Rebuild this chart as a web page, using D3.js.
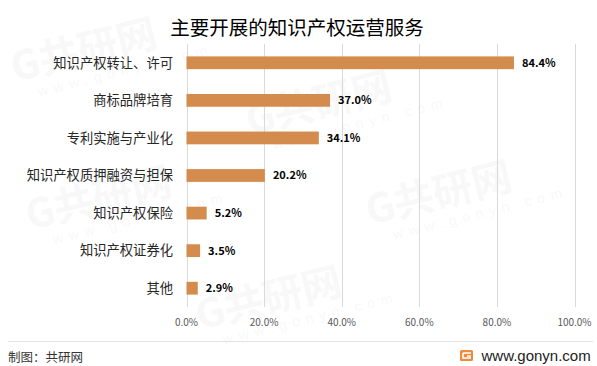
<!DOCTYPE html>
<html>
<head>
<meta charset="utf-8">
<script src="https://cdn.jsdelivr.net/npm/d3@7"></script>
<style>
    html, body { margin: 0; padding: 0; background: #fff; }
    svg { display: block; font-family: "Microsoft YaHei", "Noto Sans CJK SC", sans-serif; }
</style>
</head>
<body>
<div id="chart"></div>
<script>
'use strict';

// ------------ DATA ---------------- //

const CATEGORIES = ['知识产权转让、许可', '商标品牌培育', '专利实施与产业化', '知识产权质押融资与担保', '知识产权保险', '知识产权证券化', '其他'];
const VALUES     = [84.4, 37.0, 34.1, 20.2, 5.2, 3.5, 2.9];
const TICKS      = [0, 20, 40, 60, 80, 100];

const TITLE  = '主要开展的知识产权运营服务';
const SOURCE = '制图：共研网';
const SITE   = 'www.gonyn.com';

// ------------ DRAWING ---------------- //

const width  = 597;
const height = 366;
const plot   = {left: 186.5, right: 574.5, top: 44, bottom: 307};

const svg = d3.select('#chart')
    .append('svg')
    .attr('width', width)
    .attr('height', height);

// faint watermarks
const marks = [[15, 82], [250, 135], [30, 230], [370, 225], [200, 330]];
marks.forEach(([x, y]) => {
    const g = svg.append('g')
        .attr('transform', `translate(${x},${y}) rotate(-14)`)
        .attr('opacity', 0.035);
    g.append('text').attr('font-size', 40).attr('font-weight', 'bold').attr('fill', '#555').text('G共研网');
    g.append('text').attr('y', 20).attr('x', 20).attr('font-size', 14).attr('fill', '#555')
        .attr('letter-spacing', 6).attr('font-family', 'Arial, "Liberation Sans", sans-serif')
        .text('www.gonyn.com');
});

svg.append('text')
    .attr('x', 297)
    .attr('y', 35)
    .attr('text-anchor', 'middle')
    .attr('font-size', 19.5)
    .attr('fill', '#000')
    .text(TITLE);

const x = d3.scaleLinear().domain([0, 100]).range([plot.left, plot.right]);
const y = d3.scaleBand().domain(CATEGORIES).range([plot.top, plot.bottom])
    .paddingInner(0.66).paddingOuter(0.33);

// gridlines
svg.append('g')
    .selectAll('line')
    .data(TICKS)
    .join('line')
    .attr('x1', d => Math.round(x(d)) + 0.5)
    .attr('x2', d => Math.round(x(d)) + 0.5)
    .attr('y1', plot.top)
    .attr('y2', plot.bottom)
    .attr('stroke', '#d9d9d9')
    .attr('stroke-width', 1);

// x tick labels
svg.append('g')
    .selectAll('text')
    .data(TICKS)
    .join('text')
    .attr('x', d => x(d))
    .attr('y', 326)
    .attr('text-anchor', 'middle')
    .attr('font-size', 10)
    .attr('fill', '#595959')
    .text(d => d.toFixed(1) + '%');

// category labels
svg.append('g')
    .selectAll('text')
    .data(CATEGORIES)
    .join('text')
    .attr('x', 173)
    .attr('y', d => y(d) + y.bandwidth() / 2)
    .attr('dy', '0.36em')
    .attr('text-anchor', 'end')
    .attr('font-size', 13.3)
    .attr('fill', '#262626')
    .text(d => d);

// bars
svg.append('g')
    .selectAll('rect')
    .data(VALUES)
    .join('rect')
    .attr('x', x(0))
    .attr('y', (d, i) => y(CATEGORIES[i]))
    .attr('width', d => x(d) - x(0))
    .attr('height', y.bandwidth())
    .attr('fill', '#d48b4e');

// value labels
svg.append('g')
    .selectAll('text')
    .data(VALUES)
    .join('text')
    .attr('x', d => x(d) + 8)
    .attr('y', (d, i) => y(CATEGORIES[i]) + y.bandwidth() / 2)
    .attr('dy', '0.36em')
    .attr('font-size', 11)
    .attr('font-weight', 'bold')
    .attr('fill', '#000')
    .text(d => d.toFixed(1) + '%');

// footer
svg.append('line')
    .attr('x1', 8).attr('x2', width - 4)
    .attr('y1', 341.5).attr('y2', 341.5)
    .attr('stroke', '#e3e3e3');

svg.append('text')
    .attr('x', 8)
    .attr('y', 362)
    .attr('font-size', 12.5)
    .attr('fill', '#333')
    .text(SOURCE);

const logo = svg.append('g').attr('transform', 'translate(460,350)');
logo.append('rect').attr('width', 13).attr('height', 11).attr('rx', 1.5).attr('fill', '#f08a3c');
logo.append('path').attr('d', 'M3 3 H11 M3 3 V8 H10 V6 H7').attr('stroke', '#fff').attr('stroke-width', 1.6).attr('fill', 'none');

svg.append('text')
    .attr('x', 481.5)
    .attr('y', 360.5)
    .attr('font-size', 15)
    .attr('font-family', 'Arial, "Liberation Sans", sans-serif')
    .attr('fill', '#222')
    .text(SITE);
</script>
</body>
</html>
